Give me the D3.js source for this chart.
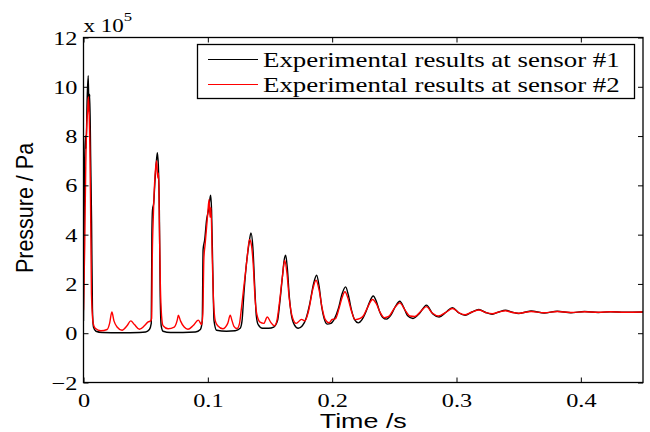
<!DOCTYPE html>
<html>
<head>
<meta charset="utf-8">
<script src="https://cdn.jsdelivr.net/npm/d3@7"></script>
<style>
  html, body { margin: 0; padding: 0; background: #fff; }
  svg { display: block; }
</style>
</head>
<body>
<div id="chart"></div>
<script>
// Pressure in units of 1e5 Pa, time in seconds
const sensor1Time = [0, 0.0008, 0.0015, 0.002, 0.003, 0.0038, 0.0044, 0.005, 0.0058, 0.0065, 0.0072, 0.008, 0.010, 0.015, 0.03, 0.045, 0.05, 0.053, 0.0545,
  0.055, 0.0555, 0.0565, 0.0575, 0.0585, 0.0594, 0.0602, 0.061, 0.0617, 0.0625, 0.064, 0.07, 0.08, 0.09, 0.094, 0.0955,
  0.0962, 0.0975, 0.099, 0.1005, 0.1015, 0.1023, 0.103, 0.104, 0.105, 0.107, 0.115, 0.122, 0.126, 0.1275,
  0.129, 0.131, 0.133, 0.1347, 0.1362, 0.1378, 0.139, 0.1405, 0.144, 0.149, 0.153, 0.156,
  0.158, 0.160, 0.1615, 0.1626, 0.164, 0.1655, 0.167, 0.1695, 0.1727, 0.176, 0.179,
  0.182, 0.185, 0.1875, 0.1895, 0.1915, 0.1935, 0.196, 0.199, 0.202, 0.205, 0.208, 0.2108, 0.213, 0.2155, 0.218, 0.221,
  0.224, 0.227, 0.230, 0.233, 0.2355, 0.238, 0.2405, 0.2437, 0.2475, 0.251, 0.2544, 0.2575, 0.2605, 0.265, 0.2705,
  0.2758, 0.281, 0.286, 0.2915, 0.2967, 0.302, 0.307, 0.3125, 0.318, 0.3235, 0.3287, 0.334, 0.3393, 0.345, 0.35, 0.355,
  0.36, 0.3705, 0.381, 0.392, 0.403, 0.414, 0.424, 0.435, 0.45];
const sensor1Pressure = [0.5, 6.5, 8.0, 7.5, 9.6, 10.45, 9.0, 9.7, 7.0, 4.5, 1.0, 0.25, 0.08, 0.03, 0.02, 0.03, 0.05, 0.15, 0.4,
  4.0, 5.0, 5.3, 6.2, 6.9, 7.33, 6.8, 5.0, 1.5, 0.3, 0.08, 0.03, 0.03, 0.05, 0.15, 0.5,
  3.4, 3.8, 4.6, 5.0, 5.4, 5.6, 5.0, 2.5, 0.5, 0.12, 0.08, 0.1, 0.2, 0.5,
  1.6, 2.8, 3.6, 4.07, 3.5, 1.8, 0.7, 0.35, 0.2, 0.2, 0.25, 0.5,
  1.3, 2.3, 3.0, 3.17, 2.6, 1.5, 0.8, 0.35, 0.2, 0.3, 0.6,
  1.2, 2.0, 2.35, 1.9, 1.1, 0.6, 0.37, 0.4, 0.6, 1.0, 1.6, 1.88, 1.55, 0.95, 0.55, 0.42,
  0.55, 0.85, 1.25, 1.51, 1.3, 0.9, 0.65, 0.57, 0.75, 1.1, 1.3, 1.05, 0.72, 0.6, 0.82,
  1.14, 0.78, 0.66, 0.85, 1.04, 0.82, 0.73, 0.86, 0.96, 0.84, 0.77, 0.86, 0.93, 0.85, 0.8, 0.85,
  0.9, 0.82, 0.89, 0.83, 0.88, 0.84, 0.87, 0.85, 0.86];

const sensor2Time = [0, 0.001, 0.0018, 0.0026, 0.0034, 0.004, 0.0046, 0.0051, 0.0056, 0.0064, 0.0078, 0.0094, 0.014, 0.019, 0.021,
  0.0228, 0.0245, 0.027, 0.031, 0.035, 0.038, 0.041, 0.045, 0.049, 0.052, 0.054, 0.0548,
  0.0553, 0.0562, 0.0572, 0.058, 0.0588, 0.0597, 0.0604, 0.061, 0.0618, 0.0628, 0.064, 0.068, 0.073, 0.0755,
  0.0763, 0.078, 0.081, 0.084, 0.088, 0.0924, 0.095, 0.096, 0.0968, 0.0978, 0.099, 0.1, 0.101, 0.1018, 0.1025,
  0.1035, 0.1045, 0.106, 0.108, 0.112, 0.116, 0.118, 0.1195, 0.121, 0.1235, 0.1255, 0.127, 0.129, 0.1315, 0.1335,
  0.135, 0.1365, 0.138, 0.1395, 0.142, 0.145, 0.1478, 0.1505, 0.1535, 0.1555, 0.1575, 0.16, 0.1618, 0.1635, 0.1655,
  0.168, 0.171, 0.1754, 0.178, 0.181, 0.1845, 0.187, 0.1895, 0.192, 0.1945, 0.1975, 0.2, 0.2025, 0.2055, 0.208,
  0.2103, 0.2125, 0.2155, 0.2185, 0.2225, 0.225, 0.2285, 0.2325, 0.2355, 0.2385, 0.242, 0.2455, 0.2505, 0.2544,
  0.2585, 0.2625, 0.2665, 0.2715, 0.2758, 0.2805, 0.2855, 0.2915, 0.2967, 0.302, 0.307, 0.3125, 0.318, 0.3235,
  0.3287, 0.334, 0.3393, 0.345, 0.35, 0.355, 0.36, 0.3705, 0.381, 0.392, 0.403, 0.414, 0.424, 0.435, 0.45];
const sensor2Pressure = [0.93, 3.6, 6.75, 8.4, 9.05, 9.6, 8.85, 7.6, 5.7, 1.6, 0.4, 0.2, 0.1, 0.15, 0.4,
  0.86, 0.5, 0.25, 0.12, 0.3, 0.5, 0.35, 0.16, 0.3, 0.46, 0.5, 0.6,
  3.0, 4.8, 6.1, 6.7, 7.0, 6.3, 6.5, 4.5, 2.0, 0.7, 0.3, 0.18, 0.25, 0.55,
  0.73, 0.5, 0.25, 0.16, 0.3, 0.53, 0.35, 0.8, 3.0, 3.6, 4.3, 4.9, 5.43, 4.7, 5.1,
  3.2, 1.4, 0.5, 0.3, 0.18, 0.4, 0.73, 0.5, 0.28, 0.19, 0.4, 1.0, 1.9, 3.0, 3.8,
  3.6, 2.8, 1.4, 0.75, 0.45, 0.4, 0.66, 0.45, 0.3, 0.5, 1.2, 2.3, 2.96, 2.5, 1.4,
  0.65, 0.4, 0.56, 0.5, 0.9, 1.8, 2.15, 1.75, 1.0, 0.55, 0.42, 0.56, 0.58, 1.0, 1.45,
  1.68, 1.45, 0.9, 0.55, 0.6, 0.7, 1.05, 1.37, 1.2, 0.85, 0.63, 0.68, 1.05, 1.23,
  0.95, 0.7, 0.68, 0.9, 1.08, 0.82, 0.7, 0.85, 1.0, 0.83, 0.75, 0.86, 0.94, 0.84,
  0.79, 0.86, 0.91, 0.84, 0.81, 0.85, 0.88, 0.83, 0.88, 0.84, 0.87, 0.85, 0.87, 0.85, 0.86];

const xTicks = [0, 0.1, 0.2, 0.3, 0.4];
const yTicks = [-2, 0, 2, 4, 6, 8, 10, 12];
const seriesNames = ["Experimental results at sensor #1", "Experimental results at sensor #2"];
const seriesColors = ["#000000", "#ff0000"];

const width = 650, height = 432;
const marginLeft = 83.5, marginRight = 7, marginTop = 37.5, marginBottom = 49.5;
const stretch = 1.28; // the original figure is stretched horizontally

const x = d3.scaleLinear().domain([0, 0.45]).range([marginLeft, width - marginRight]);
const y = d3.scaleLinear().domain([-2, 12]).range([height - marginBottom, marginTop]);

const svg = d3.select("#chart").append("svg")
  .attr("width", width)
  .attr("height", height)
  .attr("viewBox", [0, 0, width, height]);

const serif = "'Liberation Serif', 'Times New Roman', serif";
const sans = "'Liberation Sans', Arial, sans-serif";

// clip the data to the plot box
svg.append("clipPath").attr("id", "plot")
  .append("rect")
  .attr("x", marginLeft).attr("y", marginTop)
  .attr("width", width - marginRight - marginLeft)
  .attr("height", height - marginBottom - marginTop);

const line = d3.line()
  .x(d => x(d[0]))
  .y(d => y(d[1]))
  .curve(d3.curveMonotoneX);

const series = [
  d3.zip(sensor1Time, sensor1Pressure),
  d3.zip(sensor2Time, sensor2Pressure)
];

svg.append("g")
  .attr("clip-path", "url(#plot)")
  .selectAll("path")
  .data(series)
  .join("path")
  .attr("fill", "none")
  .attr("stroke", (d, i) => seriesColors[i])
  .attr("stroke-width", 1.4)
  .attr("stroke-linejoin", "round")
  .attr("d", line);

// axes, ticks pointing inwards on all four sides
const tickLen = 5;
const bottomAxis = svg.append("g")
  .attr("transform", `translate(0,${height - marginBottom})`)
  .call(d3.axisBottom(x).tickValues(xTicks).tickSize(-tickLen).tickSizeOuter(0).tickFormat(d => d === 0 ? "0" : d3.format(".1f")(d)));
const topAxis = svg.append("g")
  .attr("transform", `translate(0,${marginTop})`)
  .call(d3.axisTop(x).tickValues(xTicks).tickSize(-tickLen).tickSizeOuter(0).tickFormat(""));
const leftAxis = svg.append("g")
  .attr("transform", `translate(${marginLeft},0)`)
  .call(d3.axisLeft(y).tickValues(yTicks).tickSize(-tickLen).tickSizeOuter(0));
const rightAxis = svg.append("g")
  .attr("transform", `translate(${width - marginRight},0)`)
  .call(d3.axisRight(y).tickValues(yTicks).tickSize(-tickLen).tickSizeOuter(0).tickFormat(""));

[bottomAxis, topAxis, leftAxis, rightAxis].forEach(g => {
  g.select(".domain").remove();
  g.selectAll(".tick line").attr("stroke", "#000").attr("stroke-width", 1);
});

// restyle tick labels: serif, stretched like the original
bottomAxis.selectAll(".tick text")
  .attr("font-family", serif).attr("font-size", 19).attr("fill", "#000")
  .attr("y", 0).attr("dy", null)
  .attr("transform", `translate(0,24) scale(${stretch},1)`);
leftAxis.selectAll(".tick text")
  .attr("font-family", serif).attr("font-size", 19).attr("fill", "#000")
  .attr("x", 0).attr("dy", null)
  .attr("transform", `translate(-6,6.5) scale(${stretch},1)`);

// frame
svg.append("rect")
  .attr("x", marginLeft).attr("y", marginTop)
  .attr("width", width - marginRight - marginLeft)
  .attr("height", height - marginBottom - marginTop)
  .attr("fill", "none").attr("stroke", "#000").attr("stroke-width", 1.3);

// exponent label
const expo = svg.append("text")
  .attr("font-family", serif).attr("font-size", 18).attr("fill", "#000")
  .attr("transform", `translate(${marginLeft},31.5) scale(${stretch},1)`);
expo.append("tspan").text("x 10");
expo.append("tspan").attr("font-size", 13).attr("dy", -11).text("5");

// axis titles
svg.append("text")
  .attr("font-family", sans).attr("font-size", 21).attr("fill", "#000")
  .attr("text-anchor", "middle")
  .attr("transform", `translate(${(marginLeft + width - marginRight) / 2},428) scale(${stretch},1)`)
  .text("Time /s");
svg.append("text")
  .attr("font-family", sans).attr("font-size", 21.5).attr("fill", "#000")
  .attr("text-anchor", "middle")
  .attr("transform", `translate(33,208) scale(1.12,1) rotate(-90)`)
  .text("Pressure / Pa");

// legend
const legend = svg.append("g");
legend.append("rect")
  .attr("x", 197.5).attr("y", 44.5).attr("width", 437).attr("height", 54)
  .attr("fill", "#fff").attr("stroke", "#000").attr("stroke-width", 1.3);
const rows = legend.selectAll("g.row")
  .data(seriesNames)
  .join("g")
  .attr("class", "row")
  .attr("transform", (d, i) => `translate(0,${59.5 + i * 25})`);
rows.append("line")
  .attr("x1", 208).attr("x2", 258)
  .attr("stroke", (d, i) => seriesColors[i]).attr("stroke-width", 1.2);
rows.append("text")
  .attr("font-family", serif).attr("font-size", 21).attr("fill", "#000")
  .attr("transform", `translate(263,7) scale(${stretch},1)`)
  .text(d => d);
</script>
</body>
</html>
